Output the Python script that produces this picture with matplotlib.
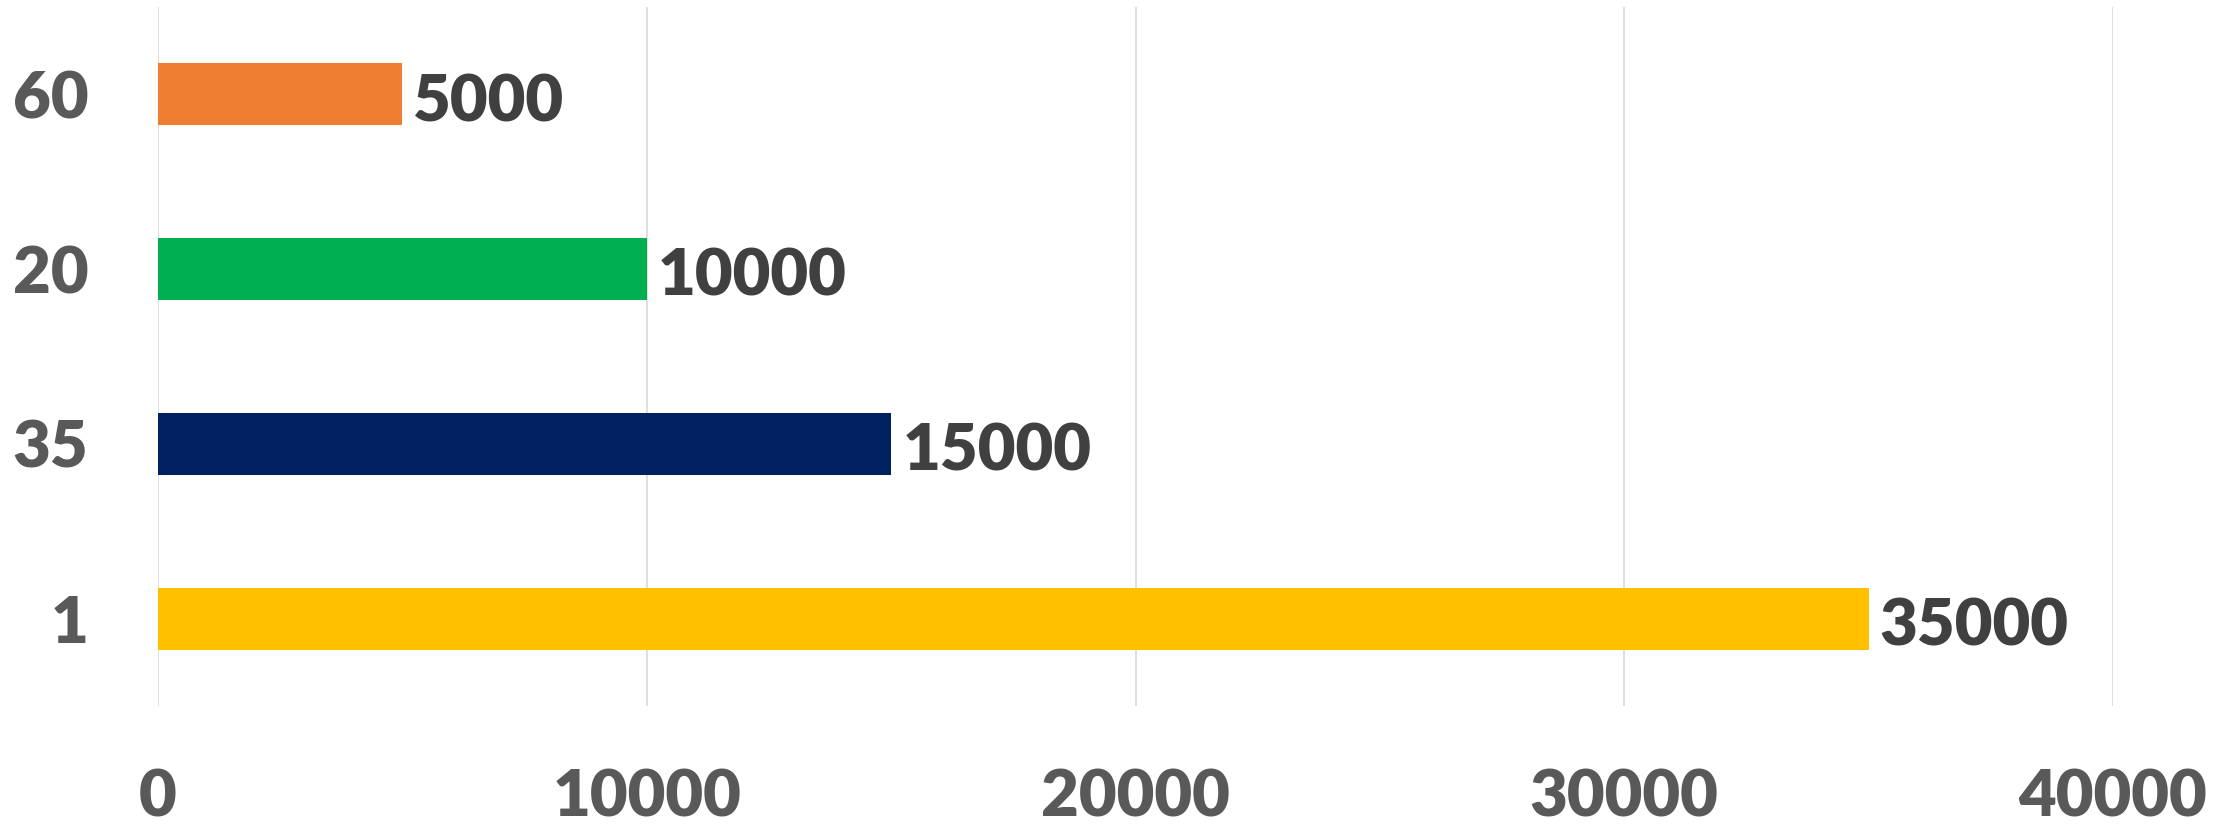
import matplotlib.pyplot as plt

# data, top to bottom
categories = ['60', '20', '35', '1']
values = [5000, 10000, 15000, 35000]
colors = ['#ED7D31', '#00B050', '#002060', '#FFC000']
x_ticks = [0, 10000, 20000, 30000, 40000]

plt.rcParams['font.family'] = ['Lato', 'DejaVu Sans']

fig = plt.figure(figsize=(22.37, 8.27), dpi=100)
ax = fig.add_axes([0.0706, 0.1463, 0.8740, 0.8452])

ypos = list(range(len(categories)))
ax.barh(ypos, values, height=0.355, color=colors, zorder=3)

for y, v in zip(ypos, values):
    ax.annotate(str(v), (v, y), xytext=(8, -6), textcoords='offset points',
                ha='left', va='center', fontsize=47, fontweight='heavy',
                color='#404040')

ax.set_xlim(0, 40000)
ax.set_ylim(len(categories) - 0.5, -0.5)
ax.set_yticks(ypos)
ax.set_yticklabels(categories)
ax.set_xticks(x_ticks)
ax.set_xticklabels([str(t) for t in x_ticks])

ax.tick_params(axis='x', length=0, pad=45, labelsize=47, labelcolor='#595959')
ax.tick_params(axis='y', length=0, pad=50, labelsize=47, labelcolor='#595959')
for lab in ax.get_xticklabels() + ax.get_yticklabels():
    lab.set_fontweight('heavy')

ax.grid(axis='x', color='#D9D9D9', linewidth=1.2, zorder=0)
ax.set_axisbelow(True)
for s in ax.spines.values():
    s.set_visible(False)

fig.savefig('out.png', dpi=100)
